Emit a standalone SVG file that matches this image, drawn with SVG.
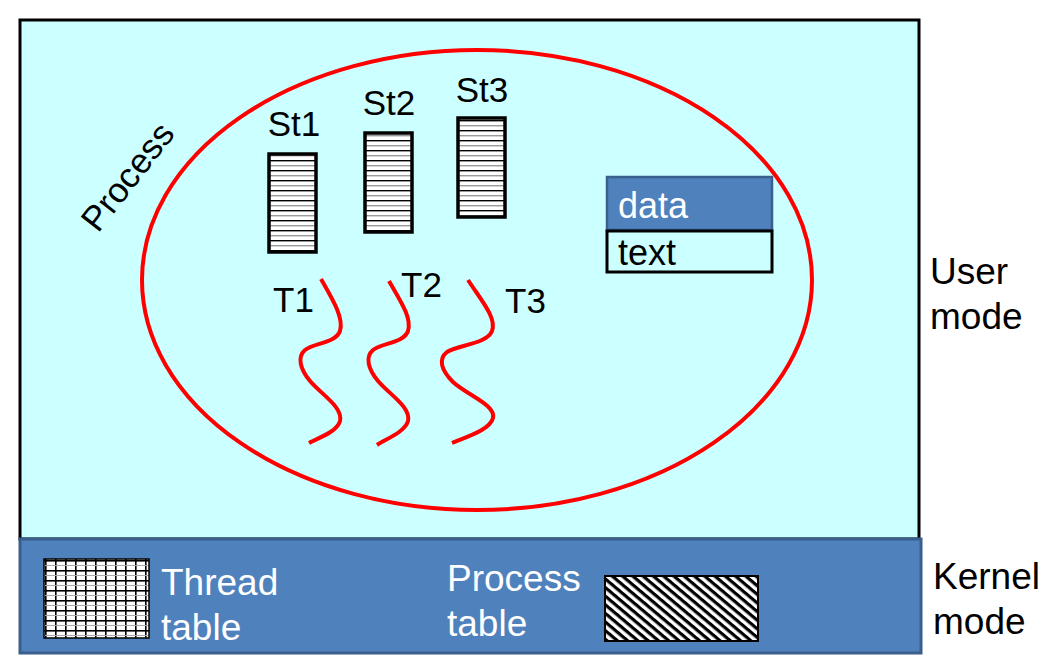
<svg xmlns="http://www.w3.org/2000/svg" width="1056" height="672" viewBox="0 0 1056 672">
<style>
text{font-family:"Liberation Sans",Arial,sans-serif;font-size:35px;fill:#000}
.w{fill:#fff}
.big{font-size:37px}
.mid{font-size:36px}
.stack{stroke:#000;stroke-width:3.5}
.thread{fill:none;stroke:#f00;stroke-width:4;stroke-linecap:butt}
</style>
<defs>
<pattern id="hstripes" width="10" height="10" patternUnits="userSpaceOnUse" y="0">
<rect width="10" height="10" fill="#fff"/>
<rect y="0" width="10" height="1.4" fill="#000"/>
<rect y="5" width="10" height="1.4" fill="#999"/>
</pattern>
<pattern id="grid" width="10" height="10" patternUnits="userSpaceOnUse" x="45" y="560">
<rect width="10" height="10" fill="#fff"/>
<rect x="0" width="1.6" height="10" fill="#000"/>
<rect y="0" width="10" height="1.6" fill="#000"/>
<rect y="5" width="10" height="1" fill="#aaa"/>
</pattern>
<pattern id="hatch" width="10" height="6.6" patternUnits="userSpaceOnUse" patternTransform="rotate(40)">
<rect width="10" height="6.6" fill="#fff"/>
<rect width="10" height="3.2" fill="#000"/>
</pattern>
</defs>

<g id="user-space">
<rect x="20" y="20" width="899" height="519" fill="#ccffff" stroke="#000" stroke-width="3"/>
</g>

<g id="kernel-space">
<rect x="20" y="539" width="901" height="114" fill="#4f81bd" stroke="#3a5f8c" stroke-width="3"/>
</g>

<g id="process-ellipse">
<ellipse cx="477" cy="280" rx="335" ry="230" fill="none" stroke="#f00" stroke-width="4"/>
<text transform="translate(137,184) rotate(-52)" text-anchor="middle" font-size="33">Process</text>
</g>

<g id="st1">
<rect class="stack" x="269" y="154" width="47" height="98" fill="url(#hstripes)"/>
<text x="294" y="136" text-anchor="middle">St1</text>
</g>
<g id="st2">
<rect class="stack" x="365" y="133" width="47" height="99" fill="url(#hstripes)"/>
<text x="389" y="115" text-anchor="middle">St2</text>
</g>
<g id="st3">
<rect class="stack" x="458" y="118" width="47" height="99" fill="url(#hstripes)"/>
<text x="482" y="102" text-anchor="middle">St3</text>
</g>

<g id="connectors">
<path class="thread" d="M321,279 C333,300 344,318 340,331 C336,343 314,343 305,350 C297,357 300,369 310,381 C322,395 343,407 340,421 C337,432 318,438 309,443"/>
<path class="thread" d="M389,281 C401,302 412,318 408,331 C404,343 382,343 373,350 C365,357 368,369 378,381 C390,395 411,407 408,421 C405,432 386,439 377,445"/>
<path class="thread" d="M468,280 C481,300 497,318 492,331 C487,344 458,345 447,352 C438,359 441,370 453,382 C467,395 496,405 493,418 C490,430 466,437 452,443"/>
</g>

<g id="t1"><text x="273" y="312">T1</text></g>
<g id="t2"><text x="401" y="297">T2</text></g>
<g id="t3"><text x="505" y="313">T3</text></g>

<g id="data-text">
<rect x="607" y="177" width="165" height="53" fill="#4f81bd" stroke="#3a5f8c" stroke-width="2.5"/>
<text class="w mid" x="618" y="218">data</text>
<rect x="607" y="231" width="165" height="41" fill="none" stroke="#000" stroke-width="3"/>
<text class="mid" x="618" y="265">text</text>
</g>

<g id="user-mode">
<text class="big" x="930" y="284">User</text>
<text class="big" x="930" y="329">mode</text>
</g>

<g id="thread-table">
<rect x="44" y="559" width="105" height="79" fill="url(#grid)" stroke="#000" stroke-width="1.5"/>
<text class="w big" x="161" y="595">Thread</text>
<text class="w big" x="161" y="640">table</text>
</g>

<g id="process-table">
<text class="w big" x="447" y="591">Process</text>
<text class="w big" x="447" y="636">table</text>
<rect x="605" y="576" width="153" height="65" fill="url(#hatch)" stroke="#000" stroke-width="2"/>
</g>

<g id="kernel-mode">
<text class="big" x="933" y="589">Kernel</text>
<text class="big" x="933" y="634">mode</text>
</g>
</svg>
